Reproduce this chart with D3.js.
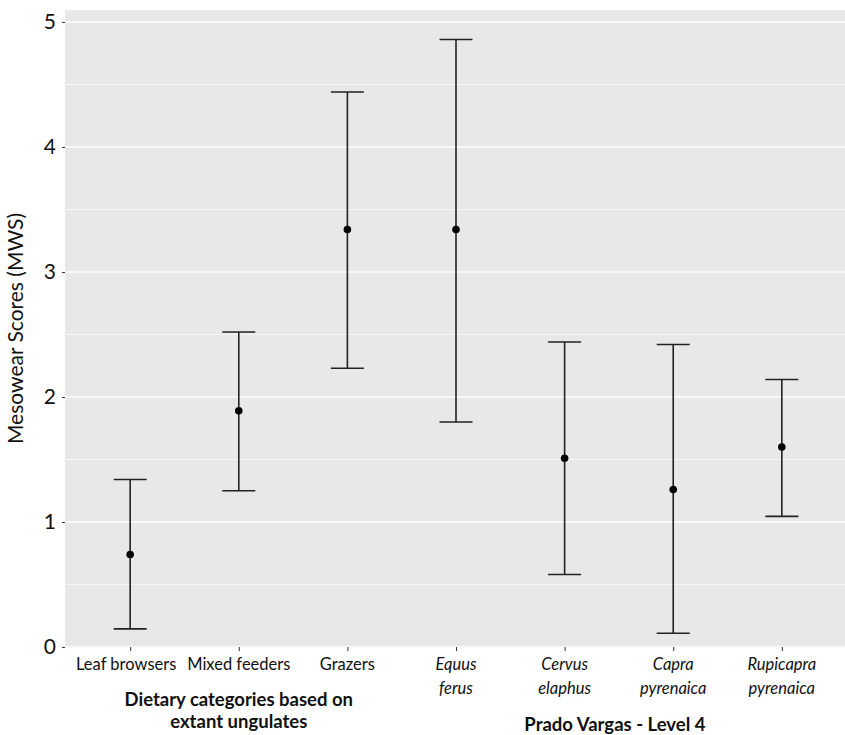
<!DOCTYPE html>
<html><head><meta charset="utf-8">
<script src="https://cdn.jsdelivr.net/npm/d3@7"></script>
<style>body{margin:0;background:#fff}svg{display:block}text{font-family:Lato,"Open Sans",sans-serif}</style>
</head><body><svg id="c" width="845" height="735"></svg>
<script>
const categories = ["Leaf browsers","Mixed feeders","Grazers","Equus ferus","Cervus elaphus","Capra pyrenaica","Rupicapra pyrenaica"];
const labelLines = [["Leaf browsers"],["Mixed feeders"],["Grazers"],["Equus","ferus"],["Cervus","elaphus"],["Capra","pyrenaica"],["Rupicapra","pyrenaica"]];
const italic = [false,false,false,true,true,true,true];
const means = [0.74, 1.89, 3.34, 3.34, 1.51, 1.26, 1.60];
const lower = [0.145, 1.25, 2.23, 1.80, 0.58, 0.11, 1.045];
const upper = [1.34, 2.52, 4.44, 4.86, 2.44, 2.42, 2.14];
const yTicks = [0,1,2,3,4,5];
const yMinor = [0.5,1.5,2.5,3.5,4.5];

const svg = d3.select("#c");
const L = 65, R = 847, T = 10, B = 647;
const x = d3.scalePoint().domain(categories).range([L, R]).padding(0.6);
const y = d3.scaleLinear().domain([0, 5]).range([B, 22]);

svg.append("rect").attr("x", L).attr("y", T).attr("width", R - L).attr("height", B - T + 1).attr("fill", "#e8e8e8");
svg.append("g").selectAll("line").data(yMinor).join("line")
  .attr("x1", L).attr("x2", R).attr("y1", d => y(d)).attr("y2", d => y(d))
  .attr("stroke", "#f6f6f6").attr("stroke-width", 1);
svg.append("g").selectAll("line").data(yTicks).join("line")
  .attr("x1", L).attr("x2", R).attr("y1", d => y(d)).attr("y2", d => y(d))
  .attr("stroke", "#ffffff").attr("stroke-width", 1.6);

// y axis
const ya = svg.append("g").attr("transform", `translate(${L},0)`)
  .call(d3.axisLeft(y).tickValues(yTicks).tickSize(3).tickPadding(6).tickFormat(d3.format("d")));
ya.select(".domain").remove();
ya.selectAll(".tick line").attr("stroke", "#333");
ya.selectAll(".tick text").attr("font-size", 21).attr("fill", "#111").attr("font-family", "Lato,sans-serif");

// x axis
const xa = svg.append("g").attr("transform", `translate(0,${B})`)
  .call(d3.axisBottom(x).tickSize(4).tickFormat(""));
xa.select(".domain").remove();
xa.selectAll(".tick line").attr("stroke", "#333");

const lab = svg.append("g");
categories.forEach((c, i) => {
  const t = lab.append("text").attr("x", x(c)).attr("text-anchor", "middle")
    .attr("font-size", 16.5).attr("fill", "#111")
    .attr("font-style", italic[i] ? "italic" : "normal");
  labelLines[i].forEach((s, j) => {
    t.append("tspan").attr("x", x(c) - (i === 0 ? 4 : 0)).attr("y", 670 + j * 24).text(s);
  });
});

// group titles
const g1 = svg.append("text").attr("text-anchor", "middle").attr("font-size", 18.5).attr("font-weight", "bold").attr("fill", "#111");
g1.append("tspan").attr("x", x(categories[1])).attr("y", 706).text("Dietary categories based on");
g1.append("tspan").attr("x", x(categories[1])).attr("y", 728).text("extant ungulates");
svg.append("text").attr("x", (x(categories[4]) + x(categories[5])) / 2 - 4).attr("y", 731)
  .attr("text-anchor", "middle").attr("font-size", 18.5).attr("font-weight", "bold").attr("fill", "#111")
  .text("Prado Vargas - Level 4");

// y title
svg.append("text").attr("transform", `translate(23,${(T + B) / 2}) rotate(-90)`)
  .attr("text-anchor", "middle").attr("font-size", 21).attr("fill", "#111")
  .text("Mesowear Scores (MWS)");

// error bars
const data = categories.map((c, i) => ({c, m: means[i], lo: lower[i], hi: upper[i]}));
const eb = svg.append("g").attr("stroke", "#222").attr("stroke-width", 1.6);
eb.selectAll(".v").data(data).join("line")
  .attr("x1", d => x(d.c)).attr("x2", d => x(d.c)).attr("y1", d => y(d.lo)).attr("y2", d => y(d.hi));
const cw = 16.5;
eb.selectAll(".t").data(data).join("line")
  .attr("x1", d => x(d.c) - cw).attr("x2", d => x(d.c) + cw).attr("y1", d => y(d.hi)).attr("y2", d => y(d.hi));
eb.selectAll(".b").data(data).join("line")
  .attr("x1", d => x(d.c) - cw).attr("x2", d => x(d.c) + cw).attr("y1", d => y(d.lo)).attr("y2", d => y(d.lo));
svg.append("g").selectAll("circle").data(data).join("circle")
  .attr("cx", d => x(d.c)).attr("cy", d => y(d.m)).attr("r", 3.8).attr("fill", "#000");
</script></body></html>
